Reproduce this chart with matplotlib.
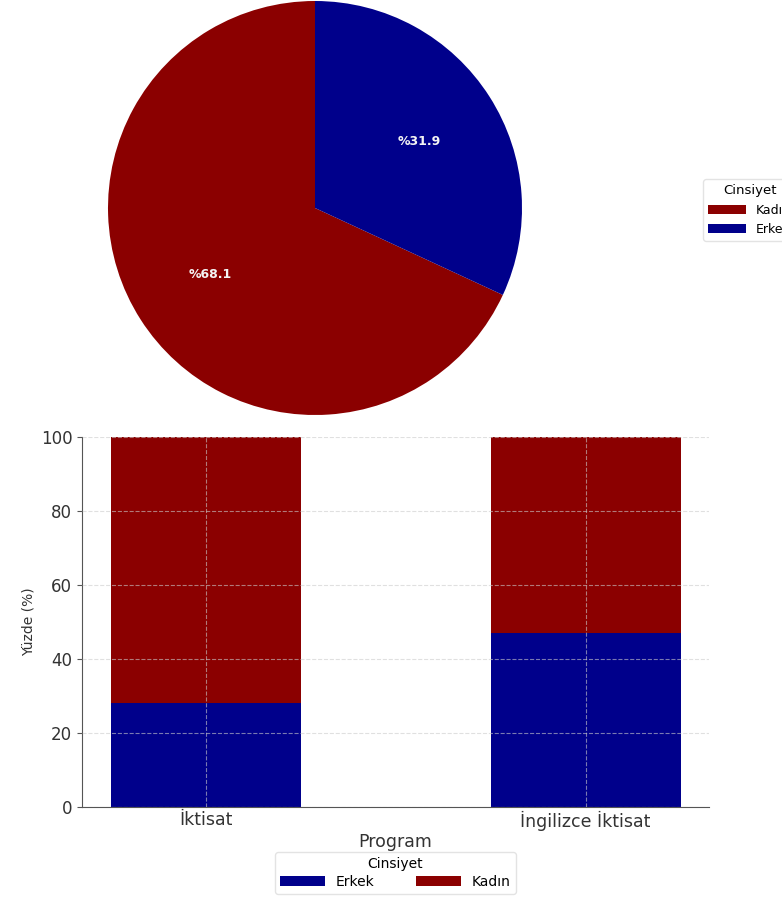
import matplotlib
matplotlib.use('Agg')
from matplotlib import pyplot as plt
import numpy as np

# pie data
pie_labels = ['Kadın', 'Erkek']
pie_values = [68.1, 31.9]

# stacked bar data (percent)
programs = ['İktisat', 'İngilizce İktisat']
erkek_pct = [28.0, 46.9]
kadin_pct = [72.0, 53.1]

red = '#8B0000'
blue = '#00008B'

fig = plt.figure(figsize=(7.82, 8.97), dpi=100)

# --- pie ---
ax1 = fig.add_axes([108/782, (897-415)/897, 414/782, 414/897])
wedges, texts, autotexts = ax1.pie(pie_values, colors=[red, blue], startangle=90,
                                   autopct='%%%.1f', pctdistance=0.6,
                                   textprops={'color': '#f4f4f4', 'fontsize': 9, 'fontweight': 'bold'})
ax1.set_xlim(-1, 1)
ax1.set_ylim(-1, 1)
# legend runs off the right edge, as in the original crop
fig.legend(wedges, pie_labels, title='Cinsiyet', loc='center left',
           bbox_to_anchor=(697/782, 1 - 210/897), fontsize=9, title_fontsize=9.5,
           handlelength=3, frameon=True, edgecolor='#dddddd')

# --- stacked bar ---
ax2 = fig.add_axes([82/782, 90/897, 627/782, 370/897])
x = np.arange(len(programs))
ax2.bar(x, erkek_pct, width=0.5, color=blue, label='Erkek')
ax2.bar(x, kadin_pct, width=0.5, bottom=erkek_pct, color=red, label='Kadın')
ax2.set_xticks(x)
ax2.set_xticklabels(programs, fontsize=12.5, color='#333333')
ax2.set_ylim(0, 100)
ax2.set_yticks([0, 20, 40, 60, 80, 100])
ax2.tick_params(axis='y', labelsize=12, labelcolor='#333333', color='#555555')
ax2.tick_params(axis='x', length=0, pad=3)
ax2.set_ylabel('Yüzde (%)', fontsize=10, color='#333333')
ax2.set_xlabel('Program', fontsize=12.5, color='#333333', labelpad=1)
ax2.grid(True, linestyle='--', color='#cccccc', alpha=0.6, linewidth=0.8)
ax2.set_axisbelow(False)
for s in ['top', 'right']:
    ax2.spines[s].set_visible(False)
for s in ['left', 'bottom']:
    ax2.spines[s].set_color('#555555')
ax2.legend(title='Cinsiyet', loc='upper center', bbox_to_anchor=(0.5, -0.122), ncol=2,
           fontsize=10, title_fontsize=10, handlelength=3.2, edgecolor='#dddddd',
           columnspacing=3, borderaxespad=0, borderpad=0.35, labelspacing=0.3)

fig.savefig('out.png', dpi=100)
